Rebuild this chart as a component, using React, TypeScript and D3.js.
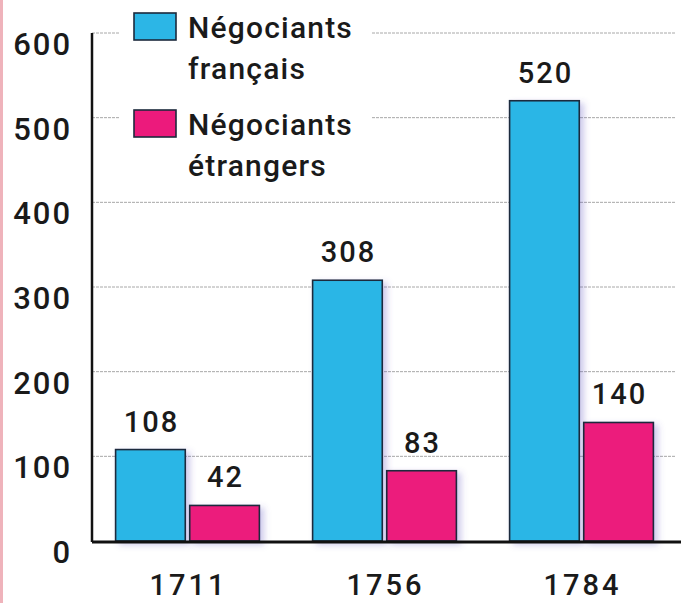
import React, { useRef, useEffect } from "react";
import * as d3 from "d3";

const years = ["1711", "1756", "1784"];
const francais = [108, 308, 520];
const etrangers = [42, 83, 140];
const seriesNames = [
  ["Négociants", "français"],
  ["Négociants", "étrangers"],
];
const yTicks = [0, 100, 200, 300, 400, 500, 600];

const colors = ["#2cb6e6", "#ec1a7c"];
const FONT = "Roboto, 'DejaVu Sans', sans-serif";

const App = () => {
  const ref = useRef<SVGSVGElement>(null);

  useEffect(() => {
    document.body.style.margin = "0";
    const width = 681;
    const height = 603;

    const svg = d3.select(ref.current).attr("width", width).attr("height", height);
    svg.selectAll("*").remove();

    const defs = svg.append("defs");
    const f = defs
      .append("filter")
      .attr("id", "shadow")
      .attr("x", "-20%")
      .attr("y", "-20%")
      .attr("width", "150%")
      .attr("height", "150%");
    f.append("feDropShadow")
      .attr("dx", 4)
      .attr("dy", 3)
      .attr("stdDeviation", 3)
      .attr("flood-color", "#5a4fc0")
      .attr("flood-opacity", 0.3);

    svg.append("rect").attr("width", width).attr("height", height).attr("fill", "#fff");
    // scan edge
    svg.append("rect").attr("x", 0).attr("y", 0).attr("width", 3).attr("height", height).attr("fill", "#efb3bb");

    const x0 = 92;
    const y = d3.scaleLinear().domain([0, 600]).range([541, 33]);
    const x = d3.scaleBand().domain(years).range([89, 680]).paddingInner(0.27).paddingOuter(0.135);
    const x1 = d3.scaleBand().domain(["fr", "et"]).range([0, x.bandwidth()]).paddingInner(0.06);

    // gridlines
    svg
      .append("g")
      .selectAll("line")
      .data(yTicks.filter((d) => d > 0))
      .join("line")
      .attr("x1", x0)
      .attr("x2", 675)
      .attr("y1", (d) => y(d))
      .attr("y2", (d) => y(d))
      .attr("stroke", "#a8a8a8")
      .attr("stroke-width", 1)
      .attr("stroke-dasharray", "3,1");

    // legend background hides gridlines
    svg.append("rect").attr("x", 120).attr("y", 0).attr("width", 252).attr("height", 190).attr("fill", "#fff");

    // tick labels
    svg
      .append("g")
      .selectAll("text")
      .data(yTicks)
      .join("text")
      .attr("x", 72)
      .attr("y", (d) => y(d) + 22)
      .attr("text-anchor", "end")
      .attr("font-family", FONT)
      .attr("font-weight", 500)
      .attr("font-size", 31)
      .attr("letter-spacing", 2)
      .attr("fill", "#1a1a1a")
      .text((d) => d);

    const groups = svg
      .append("g")
      .selectAll("g")
      .data(years.map((yr, i) => ({ yr, vals: [["fr", francais[i]], ["et", etrangers[i]]] as [string, number][] })))
      .join("g")
      .attr("transform", (d) => `translate(${x(d.yr)},0)`);

    groups
      .selectAll("rect")
      .data((d) => d.vals)
      .join("rect")
      .attr("x", (d) => x1(d[0])!)
      .attr("y", (d) => y(d[1]))
      .attr("width", x1.bandwidth())
      .attr("height", (d) => y(0) - y(d[1]))
      .attr("fill", (d, i) => colors[i])
      .attr("stroke", "#1c2a3c")
      .attr("stroke-width", 1.6)
      .attr("filter", "url(#shadow)");

    groups
      .selectAll("text")
      .data((d) => d.vals)
      .join("text")
      .attr("x", (d) => x1(d[0])! + x1.bandwidth() / 2 + 1)
      .attr("y", (d) => y(d[1]) - 18)
      .attr("text-anchor", "middle")
      .attr("font-family", FONT)
      .attr("font-weight", 500)
      .attr("font-size", 29)
      .attr("letter-spacing", 2)
      .attr("fill", "#1a1a1a")
      .text((d) => d[1]);

    // year labels
    svg
      .append("g")
      .selectAll("text")
      .data(years)
      .join("text")
      .attr("x", (d) => x(d)! + x.bandwidth() / 2 + 1)
      .attr("y", 595)
      .attr("text-anchor", "middle")
      .attr("font-family", FONT)
      .attr("font-weight", 500)
      .attr("font-size", 29)
      .attr("letter-spacing", 3)
      .attr("fill", "#1a1a1a")
      .text((d) => d);

    // axes
    svg.append("line").attr("x1", x0).attr("x2", x0).attr("y1", 33).attr("y2", 542).attr("stroke", "#111").attr("stroke-width", 2.5);
    svg.append("line").attr("x1", x0).attr("x2", width).attr("y1", 542).attr("y2", 542).attr("stroke", "#111").attr("stroke-width", 3);

    // legend
    const legend = svg
      .append("g")
      .selectAll("g")
      .data(seriesNames)
      .join("g")
      .attr("transform", (d, i) => `translate(134,${13 + i * 97})`);
    legend
      .append("rect")
      .attr("width", 42)
      .attr("height", 27)
      .attr("fill", (d, i) => colors[i])
      .attr("stroke", "#1c2a3c")
      .attr("stroke-width", 1.6);
    legend
      .append("text")
      .attr("font-family", FONT)
      .attr("font-weight", 500)
      .attr("font-size", 30)
      .attr("letter-spacing", 1.2)
      .attr("fill", "#1a1a1a")
      .selectAll("tspan")
      .data((d) => d)
      .join("tspan")
      .attr("x", 54)
      .attr("y", (d, i) => 25 + i * 41)
      .text((d) => d);
  }, []);

  return <svg ref={ref} style={{ display: "block" }}></svg>;
};

export default App;
